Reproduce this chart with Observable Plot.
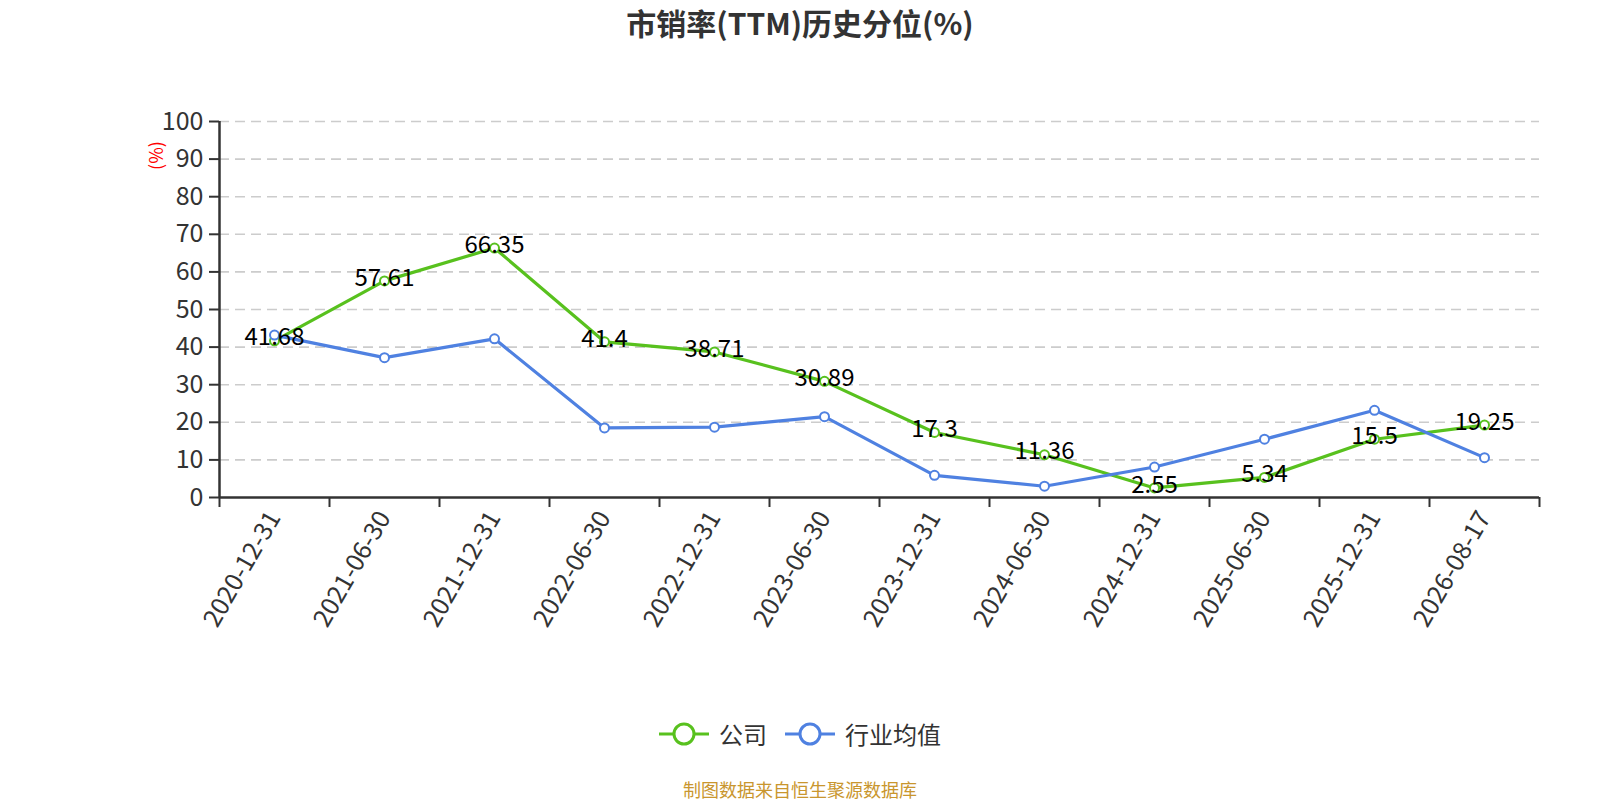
<!DOCTYPE html>
<html>
<head>
<meta charset="utf-8">
<script src="https://cdn.jsdelivr.net/npm/d3@7"></script>
<script src="https://cdn.jsdelivr.net/npm/@observablehq/plot@0.6"></script>
<style>
  html, body { margin: 0; padding: 0; background: #fff; }
  body { width: 1600px; height: 800px; position: relative; overflow: hidden; font-family: "Noto Sans CJK SC", "Noto Sans", sans-serif; }
  #title { position: absolute; top: 2px; left: 0; width: 1600px; text-align: center; font-size: 30px; font-weight: bold; color: #333; line-height: 40px; }
  #chart { position: absolute; top: 50px; left: 0; }
  #legend { position: absolute; top: 716px; left: 0; width: 1600px; display: flex; justify-content: center; align-items: center; font-size: 24px; color: #333; }
  .item { display: flex; align-items: center; margin: 0 9px 0 9px; }
  .item svg { margin-right: 10px; }
  #caption { position: absolute; top: 776px; left: 0; width: 1600px; text-align: center; font-size: 18px; color: #c9962e; line-height: 26px; }
</style>
</head>
<body>
<div id="title">市销率(TTM)历史分位(%)</div>
<div id="chart"></div>
<div id="legend"></div>
<div id="caption">制图数据来自恒生聚源数据库</div>
<script>
const dates = ["2020-12-31","2021-06-30","2021-12-31","2022-06-30","2022-12-31","2023-06-30","2023-12-31","2024-06-30","2024-12-31","2025-06-30","2025-12-31","2026-08-17"];
const company = [41.68, 57.61, 66.35, 41.4, 38.71, 30.89, 17.3, 11.36, 2.55, 5.34, 15.5, 19.25];
const industry = [43.2, 37.2, 42.2, 18.5, 18.7, 21.5, 5.9, 3.0, 8.1, 15.5, 23.2, 10.6];
const yTicks = [0, 10, 20, 30, 40, 50, 60, 70, 80, 90, 100];
const seriesNames = ["公司", "行业均值"];
const colors = ["#58c11e", "#4f81e1"];

const rows = (vals, name) => vals.map((v, i) => ({i: i + 0.5, date: dates[i], v, name}));
const compRows = rows(company, seriesNames[0]);
const indRows = rows(industry, seriesNames[1]);
const centers = dates.map((d, i) => i + 0.5);
const bounds = d3.range(dates.length + 1);

const font = "Noto Sans CJK SC, Noto Sans, sans-serif";

const chart = Plot.plot({
  width: 1600,
  height: 600,
  marginLeft: 219,
  marginRight: 61,
  marginTop: 71,
  marginBottom: 153,
  style: {fontFamily: font, fontSize: "25px", color: "#333", background: "#fff"},
  x: {type: "linear", domain: [0, dates.length]},
  y: {domain: [0, 100]},
  marks: [
    Plot.ruleY(yTicks.filter(d => d > 0), {stroke: "#cccccc", strokeWidth: 1.6, strokeDasharray: "10,6"}),
    Plot.axisY({ticks: yTicks, tickSize: 10, tickPadding: 6, tickFormat: d => d, fontSize: 25, fill: "#333", stroke: "#333", strokeWidth: 2, label: null}),
    Plot.axisX({ticks: bounds, tickSize: 10, tickFormat: () => "", stroke: "#333", strokeWidth: 2, label: null}),
    Plot.axisX({ticks: centers, tickSize: 0, tickPadding: 16, tickRotate: -60, tickFormat: d => dates[Math.floor(d)], fontSize: 25, fill: "#333", label: null}),
    Plot.ruleX([0], {stroke: "#333", strokeWidth: 2.5}),
    Plot.ruleY([0], {stroke: "#333", strokeWidth: 2.5}),
    Plot.text(["(%)"], {frameAnchor: "top-left", textAnchor: "middle", lineAnchor: "middle", dx: -62, dy: 34, rotate: -90, fill: "red", fontSize: 18}),
    Plot.line(compRows, {x: "i", y: "v", stroke: colors[0], strokeWidth: 3.2}),
    Plot.line(indRows, {x: "i", y: "v", stroke: colors[1], strokeWidth: 3.2}),
    Plot.dot(compRows, {x: "i", y: "v", r: 4.5, fill: "white", stroke: colors[0], strokeWidth: 2}),
    Plot.dot(indRows, {x: "i", y: "v", r: 4.5, fill: "white", stroke: colors[1], strokeWidth: 2}),
    Plot.text(compRows, {x: "i", y: "v", text: d => String(d.v), fill: "black", fontSize: 24, dy: -3, lineAnchor: "middle"})
  ]
});
document.getElementById("chart").appendChild(chart);

const legend = document.getElementById("legend");
seriesNames.forEach((n, k) => {
  const item = document.createElement("div");
  item.className = "item";
  item.innerHTML = `<svg width="50" height="24"><line x1="0" x2="50" y1="12" y2="12" stroke="${colors[k]}" stroke-width="3"/><circle cx="25" cy="12" r="10" fill="white" stroke="${colors[k]}" stroke-width="3"/></svg><span>${n}</span>`;
  legend.appendChild(item);
});
</script>
</body>
</html>
